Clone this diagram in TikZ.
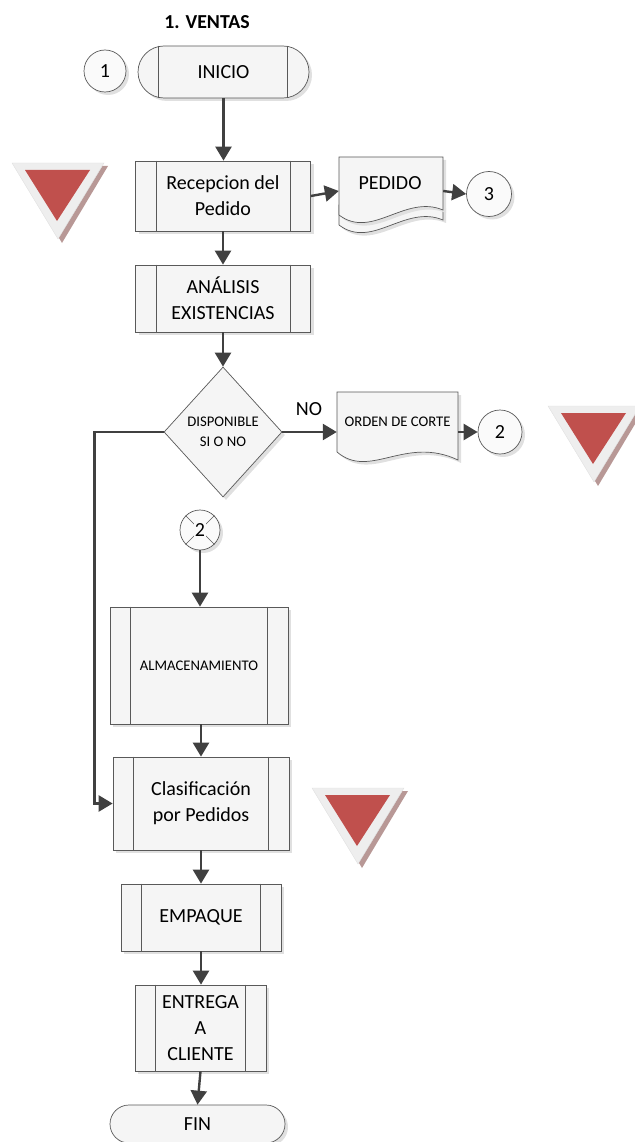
\documentclass[tikz,border=0pt]{standalone}
\usepackage{fontspec}
\setmainfont{Carlito}
\usetikzlibrary{arrows.meta,shapes.geometric,shapes.misc,shadows,calc}
\definecolor{tsh}{RGB}{184,152,150}
\definecolor{tred}{RGB}{192,80,77}
\definecolor{tfr}{RGB}{238,238,238}
\definecolor{lnc}{RGB}{64,64,64}
\newcommand\mytri[2]{%
  \begin{scope}[shift={(#1,#2)}]
    \fill[tsh] (4,3) -- (96,3) -- (50,80) -- cycle;
    \fill[tfr, draw=black!12, line width=0.4pt] (0,0) -- (92,0) -- (46,76) -- cycle;
    \fill[tred] (13,7) -- (78,7) -- (45,58) -- cycle;
  \end{scope}}
\newcommand\innerlines[1]{%
  \draw[thinl] ($(#1.north west)+(21,0)$) -- ($(#1.south west)+(21,0)$)
               ($(#1.north east)+(-21,0)$) -- ($(#1.south east)+(-21,0)$);}
\begin{document}
\begin{tikzpicture}[x=1pt,y=-1pt,
  every node/.style={font=\fontsize{20}{26}\selectfont},
  small/.style={font=\fontsize{14.7}{20}\selectfont},
  box/.style={draw=black!65, line width=0.7pt, fill=black!4, align=center, inner sep=0pt,
    drop shadow={shadow xshift=3pt, shadow yshift=-3pt, fill=black!12, opacity=1}},
  proc/.style={box, rectangle},
  term/.style={box, rounded rectangle},
  circ/.style={box, circle, fill=black!2},
  thinl/.style={draw=black!65, line width=0.7pt},
  ghost/.style={inner sep=0pt, align=center},
  conn/.style={draw=lnc, line width=2.4pt, -{Triangle[length=14pt,width=16pt]}}
]
\useasboundingbox (0,0) rectangle (634,1142);

% title
\node[font=\bfseries\fontsize{19.8}{24}\selectfont] (title) at (207,22) {1. VENTAS};

% warning triangles
\mytri{12}{163}
\mytri{548}{406}
\mytri{312}{788}

% start
\node[circ, minimum size=42pt] (c1) at (105,71) {1};
\node[term, minimum width=171pt, minimum height=52pt] (ini) at (223.5,72) {INICIO};
\draw[thinl] ($(ini.north)+(-65,0)$) -- ($(ini.south)+(-65,0)$)
             ($(ini.north)+(64,0)$) -- ($(ini.south)+(64,0)$);

% reception
\node[proc, minimum width=175pt, minimum height=70pt] (rec) at (223,196) {Recepcion del\\Pedido};
\innerlines{rec}

% PEDIDO multi-document
\path[box] (339,205) -- (339,225) .. controls (372,250) and (405,204) .. (443,220) -- (443,205) -- cycle;
\path[box] (339,157) -- (443,157) -- (443,210)
  .. controls (405,194) and (372,240) .. (339,215) -- cycle;
\node[ghost, minimum width=104pt, minimum height=68pt] (ped) at (391,191) {};
\node[ghost] (pedt) at (390,183) {PEDIDO};
\node[circ, minimum size=45pt] (c3) at (489,194) {3};

% analysis
\node[proc, minimum width=175pt, minimum height=67pt] (ana) at (223,298.5) {ANÁLISIS\\EXISTENCIAS};
\innerlines{ana}

% decision
\node[box, diamond, small, minimum width=118pt, minimum height=130pt] (dis) at (223,432) {DISPONIBLE\\SI O NO};
\node (no) at (309,409) {NO};

% ORDEN DE CORTE document
\path[box] (337,392) -- (458,392) -- (458,460)
  .. controls (405,435) and (370,480) .. (337,452) -- cycle;
\node[ghost, small, minimum width=121pt, minimum height=60pt] (ord) at (397.5,422) {ORDEN DE CORTE};
\node[circ, minimum size=44pt] (c2) at (500,432) {2};

% off-page connector with cross
\node[circ, minimum size=40pt] (cx) at (200,530) {};
\draw[thinl, line width=0.5pt] (cx.45) -- (cx.225) (cx.135) -- (cx.315);
\node[fill=black!2, inner sep=0.5pt] (cxt) at (cx) {2};

% storage
\node[proc, small, minimum width=178pt, minimum height=117pt] (alm) at (199,665.5) {ALMACENAMIENTO};
\innerlines{alm}

% classification
\node[proc, minimum width=176pt, minimum height=93pt] (cla) at (201,803.5) {Clasificación\\por Pedidos};
\innerlines{cla}

% packing
\node[proc, minimum width=160pt, minimum height=67pt] (emp) at (201,917.5) {EMPAQUE};
\innerlines{emp}

% delivery
\node[proc, minimum width=131pt, minimum height=86pt] (ent) at (200.5,1028) {ENTREGA\\A\\CLIENTE};
\innerlines{ent}

% end
\node[term, minimum width=175pt, minimum height=38pt] (fin) at (197.5,1124) {FIN};

% connectors
\draw[conn] (ini.south) -- (ini.south |- rec.north);
\draw[conn] (rec.east) -- (ped.west);
\draw[conn] (ped.east) -- (c3.west);
\draw[conn] (rec.south) -- (ana.north);
\draw[conn] (ana.south) -- (dis.north);
\draw[conn] (dis.east) -- (dis.east -| ord.west);
\draw[conn] (c2.west -| ord.east) -- (c2.west);
\draw[conn] (dis.west) -- ++(-69,0) |- (cla.west);
\draw[conn] (cx.south) -- (cx.south |- alm.north);
\draw[conn] (cla.north |- alm.south) -- (cla.north);
\draw[conn] (cla.south) -- (emp.north);
\draw[conn] (emp.south) -- (emp.south |- ent.north);
\draw[conn] (ent.south) -- (fin.north);
\end{tikzpicture}
\end{document}
